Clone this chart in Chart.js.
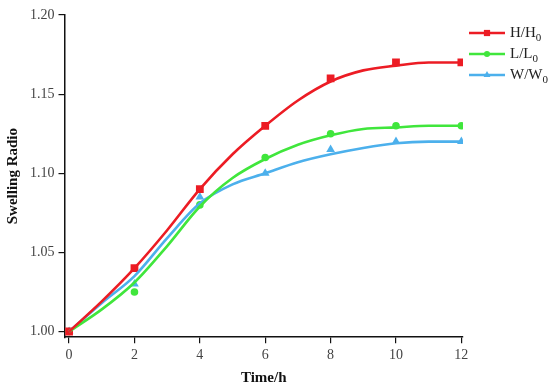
<!DOCTYPE html>
<html>
<head>
<meta charset="utf-8">
<script src="https://cdn.jsdelivr.net/npm/chart.js@4.4.1/dist/chart.umd.min.js"></script>
<style>
  html, body { margin: 0; padding: 0; background: #fff; }
  #wrap { width: 550px; height: 389px; }
</style>
</head>
<body>
<div id="wrap"><canvas id="graficaHinchamiento"></canvas></div>
<script>
// Datos
var horas = [0, 2, 4, 6, 8, 10, 12];
var alturaH = [1.00, 1.04, 1.09, 1.13, 1.16, 1.17, 1.17];
var largoL = [1.00, 1.025, 1.08, 1.11, 1.125, 1.13, 1.13];
var anchoW = [1.00, 1.03, 1.085, 1.10, 1.115, 1.12, 1.12];

// Curvas de ajuste leidas cada hora
var horasAjuste = [0, 1, 2, 3, 4, 5, 6, 7, 8, 9, 10, 11, 12];
var ajusteH = [1.000, 1.019, 1.040, 1.064, 1.090, 1.112, 1.130, 1.146, 1.158, 1.165, 1.168, 1.170, 1.170];
var ajusteL = [1.000, 1.014, 1.031, 1.054, 1.079, 1.097, 1.109, 1.118, 1.124, 1.128, 1.129, 1.130, 1.130];
var ajusteW = [1.000, 1.018, 1.035, 1.059, 1.081, 1.093, 1.100, 1.107, 1.112, 1.116, 1.119, 1.120, 1.120];

var nombres = ['H/H0', 'L/L0', 'W/W0'];
var ticksX = [0, 2, 4, 6, 8, 10, 12];
var ticksY = [1.00, 1.05, 1.10, 1.15, 1.20];

var rojo = '#ec1c24';
var verde = '#40e63c';
var azul = '#4cb0ec';

function puntos(xs, ys) {
    var res = [];
    for (var i = 0; i < xs.length; i++) {
        res.push({ x: xs[i], y: ys[i] });
    }
    return res;
}

function serieCurva(ys, color) {
    return {
        data: puntos(horasAjuste, ys),
        borderColor: color,
        borderWidth: 2.6,
        pointRadius: 0,
        tension: 0.4,
        cubicInterpolationMode: 'monotone',
        fill: false,
        esCurva: true
    };
}

function serieMarcas(nombre, ys, color, estilo, radio) {
    return {
        label: nombre,
        data: puntos(horas, ys),
        showLine: false,
        borderColor: color,
        backgroundColor: color,
        pointStyle: estilo,
        pointRadius: radio,
        pointBorderWidth: 0,
        esCurva: false
    };
}

// Leyenda dibujada a mano: linea + marca + texto con subindice
var leyendaPropia = {
    id: 'leyendaPropia',
    afterDraw: function (chart) {
        var ctx = chart.ctx;
        var marcas = chart.data.datasets.filter(function (d) { return !d.esCurva; });
        ctx.save();
        for (var i = 0; i < marcas.length; i++) {
            var d = marcas[i];
            var y = 33 + i * 21;
            ctx.strokeStyle = d.borderColor;
            ctx.lineWidth = 2.6;
            ctx.beginPath();
            ctx.moveTo(469, y);
            ctx.lineTo(505, y);
            ctx.stroke();
            ctx.fillStyle = d.borderColor;
            Chart.helpers.drawPoint(ctx, { pointStyle: d.pointStyle, radius: d.pointRadius * 0.8, borderWidth: 0 }, 487, y);
            var texto = d.label.slice(0, -1);
            var sub = d.label.slice(-1);
            ctx.fillStyle = '#222';
            ctx.textBaseline = 'middle';
            ctx.font = '15px "Liberation Serif"';
            ctx.fillText(texto, 510, y);
            var ancho = ctx.measureText(texto).width;
            ctx.font = '11px "Liberation Serif"';
            ctx.fillText(sub, 510 + ancho, y + 5);
        }
        ctx.restore();
    }
};

var ctx = document.getElementById('graficaHinchamiento').getContext('2d');

var grafica = new Chart(ctx, {
    type: 'line',
    data: {
        datasets: [
            serieCurva(ajusteH, rojo),
            serieCurva(ajusteL, verde),
            serieCurva(ajusteW, azul),
            serieMarcas(nombres[0], alturaH, rojo, 'rect', 5.5),
            serieMarcas(nombres[1], largoL, verde, 'circle', 3.8),
            serieMarcas(nombres[2], anchoW, azul, 'triangle', 5)
        ]
    },
    plugins: [leyendaPropia],
    options: {
        responsive: true,
        maintainAspectRatio: false,
        animation: false,
        layout: {
            padding: { top: 15, right: 87, left: 4, bottom: 2 }
        },
        plugins: {
            legend: { display: false },
            tooltip: { enabled: false }
        },
        scales: {
            x: {
                type: 'linear',
                min: -0.14,
                max: 12.05,
                afterBuildTicks: function (scale) {
                    scale.ticks = ticksX.map(function (v) { return { value: v }; });
                },
                border: { display: true, color: '#111', width: 1.5 },
                grid: { display: true, drawOnChartArea: false, drawTicks: true, tickLength: 6, color: '#111', lineWidth: 1.2 },
                ticks: {
                    color: '#444',
                    padding: 4,
                    font: { family: '"Liberation Serif"', size: 14 }
                },
                title: {
                    display: true,
                    text: 'Time/h',
                    color: '#111',
                    padding: { top: 1, bottom: 0 },
                    font: { family: '"Liberation Serif"', size: 15, weight: 'bold' }
                }
            },
            y: {
                type: 'linear',
                min: 0.9964,
                max: 1.20,
                afterBuildTicks: function (scale) {
                    scale.ticks = ticksY.map(function (v) { return { value: v }; });
                },
                border: { display: true, color: '#111', width: 1.5 },
                grid: { display: true, drawOnChartArea: false, drawTicks: true, tickLength: 6, color: '#111', lineWidth: 1.2 },
                ticks: {
                    color: '#444',
                    padding: 4,
                    font: { family: '"Liberation Serif"', size: 14 },
                    callback: function (v) { return v.toFixed(2); }
                },
                title: {
                    display: true,
                    text: 'Swelling Radio',
                    color: '#111',
                    padding: { top: 0, bottom: 4 },
                    font: { family: '"Liberation Serif"', size: 15, weight: 'bold' }
                }
            }
        }
    }
});
</script>
</body>
</html>
